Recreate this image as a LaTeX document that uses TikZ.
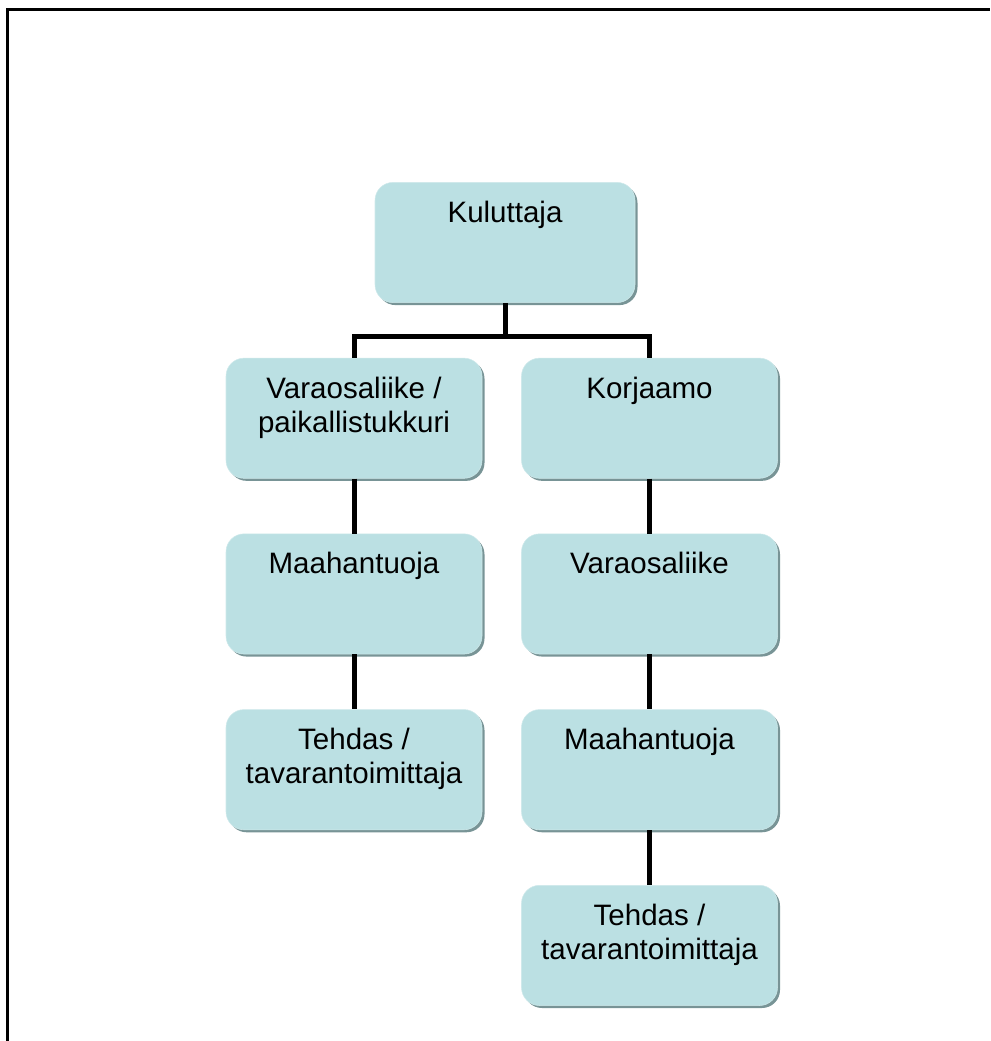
\documentclass[tikz,border=0pt]{standalone}
\usepackage{fontspec}
\setmainfont{Liberation Sans}
\usetikzlibrary{positioning, shadows}

\definecolor{boxfill}{RGB}{187,224,227}
\definecolor{boxshade}{RGB}{120,148,150}
\newcommand{\boxtxt}[1]{\parbox[c][50pt][t]{5cm}{\centering\strut #1}}

\begin{document}
\begin{tikzpicture}[
    node distance=1.1cm,
    box/.style={rectangle, rounded corners=0.36cm, fill=boxfill, draw=boxfill!70!white, line width=0.3pt, minimum width=5.12cm, inner xsep=0pt, inner ysep=9.2pt, font=\fontsize{16.8}{19.4}\selectfont, drop shadow={shadow xshift=0.05cm, shadow yshift=-0.05cm, fill=boxshade, opacity=1}},
    conn/.style={line width=0.1cm}
]
    \useasboundingbox (0,0) rectangle (19.8,-20.82);
    % frame
    \draw[line width=0.06cm] (0.14,-20.82) |- (19.8,-0.2);

    \node[box, minimum width=5.2cm] (kul) at (10.1,-4.85) {\boxtxt{Kuluttaja}};

    % left chain
    \node[box, below=of kul, xshift=-3.02cm] (vos) {\boxtxt{Varaosaliike /\\paikallistukkuri}};
    \node[box, below=of vos] (maaL) {\boxtxt{Maahantuoja}};
    \node[box, below=of maaL] (tehL) {\boxtxt{Tehdas /\\tavarantoimittaja}};

    % right chain
    \node[box, below=of kul, xshift=2.89cm] (kor) {\boxtxt{Korjaamo}};
    \node[box, below=of kor] (var) {\boxtxt{Varaosaliike}};
    \node[box, below=of var] (maaR) {\boxtxt{Maahantuoja}};
    \node[box, below=of maaR] (tehR) {\boxtxt{Tehdas /\\tavarantoimittaja}};

    \draw[conn] (kul.south) -- ++(0,-0.68) coordinate (bus);
    \draw[conn] (vos.north) |- (bus) -| (kor.north);
    \draw[conn] (vos) -- (maaL);
    \draw[conn] (maaL) -- (tehL);
    \draw[conn] (kor) -- (var);
    \draw[conn] (var) -- (maaR);
    \draw[conn] (maaR) -- (tehR);
\end{tikzpicture}
\end{document}
